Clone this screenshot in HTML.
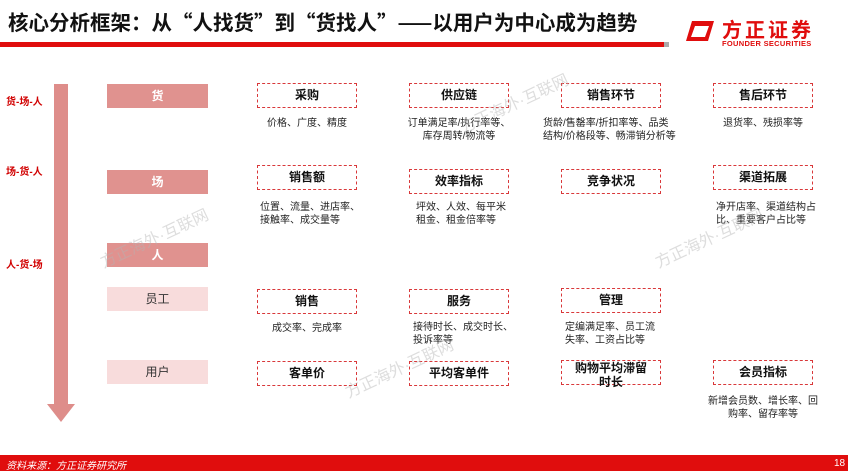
<!DOCTYPE html>
<html><head><meta charset="utf-8"><style>
*{margin:0;padding:0;box-sizing:border-box}
body{width:848px;height:471px;background:#fff;position:relative;overflow:hidden;font-family:"Liberation Sans","Noto Sans CJK SC",sans-serif;color:#222}
.a{position:absolute}
.title{left:8px;top:6px;font-size:20.5px;font-weight:bold;color:#111;white-space:nowrap;font-family:"Noto Sans CJK SC",sans-serif}
.bar{left:0;top:42px;width:668px;height:5px;background:#e00d0d}
.lab{font-size:10px;color:#d10000;font-weight:bold;left:6px}
.pk{left:107px;width:101px;height:24px;background:#e0928f;color:#fff;font-weight:bold;font-size:12px;text-align:center;line-height:24px}
.lp{left:107px;width:101px;height:24px;background:#f8dcdc;color:#333;font-size:12px;text-align:center;line-height:24px}
.db{width:100px;height:25px;border:1px dashed #d9383a;font-weight:bold;font-size:12px;text-align:center;line-height:23px;color:#111}
.d{font-size:10px;line-height:13px;color:#222;text-align:center;width:130px;white-space:nowrap}
.wm{color:rgba(180,180,180,.45);font-size:16px;transform:rotate(-25deg);white-space:nowrap}
</style></head><body>
<div class="a title">核心分析框架：从“人找货”到“货找人”——以用户为中心成为趋势</div>
<div class="a bar"></div><div class="a" style="left:664px;top:42px;width:5px;height:5px;background:#aaa"></div>
<svg class="a" style="left:684px;top:20px" width="32" height="22" viewBox="0 0 32 22"><path d="M8 1H30L24 21H2Z M11 6 L7 17 H21 L25 6Z" fill="#e00d0d" fill-rule="evenodd"/></svg>
<div class="a" style="left:722px;top:14px;font-size:20px;font-weight:bold;color:#e00d0d;letter-spacing:3px;font-family:'Noto Sans CJK SC',sans-serif">方正证券</div>
<div class="a" style="left:722px;top:39px;font-size:7.5px;font-weight:bold;color:#e00d0d;letter-spacing:.3px">FOUNDER SECURITIES</div>

<div class="a" style="left:54px;top:84px;width:14px;height:322px;background:#de8d8a"></div>
<svg class="a" style="left:47px;top:404px" width="28" height="18"><path d="M0 0H28L14 18Z" fill="#de8d8a"/></svg>
<div class="a lab" style="top:93px">货-场-人</div>
<div class="a lab" style="top:163px">场-货-人</div>
<div class="a lab" style="top:256px">人-货-场</div>

<div class="a pk" style="top:84px">货</div>
<div class="a pk" style="top:170px">场</div>
<div class="a pk" style="top:243px">人</div>
<div class="a lp" style="top:287px">员工</div>
<div class="a lp" style="top:360px">用户</div>

<div class="a db" style="left:257px;top:83px">采购</div>
<div class="a db" style="left:409px;top:83px">供应链</div>
<div class="a db" style="left:561px;top:83px">销售环节</div>
<div class="a db" style="left:713px;top:83px">售后环节</div>
<div class="a d" style="left:242px;top:117px">价格、广度、精度</div>
<div class="a d" style="left:394px;top:117px">订单满足率/执行率等、<br>库存周转/物流等</div>
<div class="a d" style="left:543px;top:117px;text-align:left">货龄/售罄率/折扣率等、品类<br>结构/价格段等、畅滞销分析等</div>
<div class="a d" style="left:698px;top:117px">退货率、残损率等</div>

<div class="a db" style="left:257px;top:165px">销售额</div>
<div class="a db" style="left:409px;top:169px">效率指标</div>
<div class="a db" style="left:561px;top:169px">竞争状况</div>
<div class="a db" style="left:713px;top:165px">渠道拓展</div>
<div class="a d" style="left:260px;top:201px;text-align:left">位置、流量、进店率、<br>接触率、成交量等</div>
<div class="a d" style="left:416px;top:201px;text-align:left">坪效、人效、每平米<br>租金、租金倍率等</div>
<div class="a d" style="left:716px;top:201px;text-align:left">净开店率、渠道结构占<br>比、重要客户占比等</div>

<div class="a db" style="left:257px;top:289px">销售</div>
<div class="a db" style="left:409px;top:289px">服务</div>
<div class="a db" style="left:561px;top:288px">管理</div>
<div class="a d" style="left:242px;top:322px">成交率、完成率</div>
<div class="a d" style="left:413px;top:321px;text-align:left">接待时长、成交时长、<br>投诉率等</div>
<div class="a d" style="left:565px;top:321px;text-align:left">定编满足率、员工流<br>失率、工资占比等</div>

<div class="a db" style="left:257px;top:361px">客单价</div>
<div class="a db" style="left:409px;top:361px">平均客单件</div>
<div class="a db" style="left:561px;top:360px;line-height:14px;padding-top:0;overflow:visible">购物平均滞留<br>时长</div>
<div class="a db" style="left:713px;top:360px">会员指标</div>
<div class="a d" style="left:698px;top:395px">新增会员数、增长率、回<br>购率、留存率等</div>

<div class="a wm" style="left:95px;top:225px">方正海外·互联网</div>
<div class="a wm" style="left:455px;top:90px">方正海外·互联网</div>
<div class="a wm" style="left:650px;top:225px">方正海外·互联网</div>
<div class="a wm" style="left:340px;top:355px">方正海外·互联网</div>

<div class="a" style="left:0;top:455px;width:848px;height:16px;background:#e00d0d"></div>
<div class="a" style="left:6px;top:457px;font-size:10px;color:#fff;font-style:italic">资料来源：方正证券研究所</div>
<div class="a" style="left:834px;top:458px;font-size:10px;color:#fff">18</div>
</body></html>
